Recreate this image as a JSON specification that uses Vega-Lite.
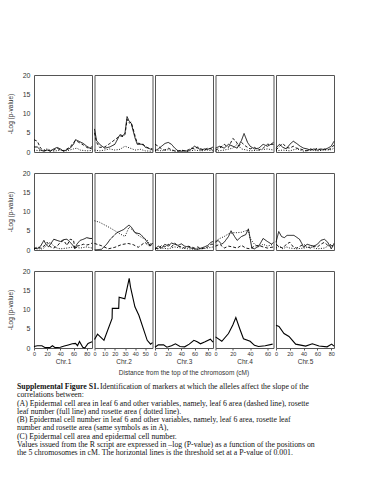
{
"$schema": "https://vega.github.io/schema/vega-lite/v6.json",
"padding": {"top": 70, "left": 6, "right": 5, "bottom": 5},
"background": "white",
"datasets": {
"c1": [
{"r":"A","s":"d","x":0,"y":3.2},{"r":"A","s":"d","x":5,"y":2.8},{"r":"A","s":"d","x":10,"y":1.0},{"r":"A","s":"d","x":15,"y":0.3},{"r":"A","s":"d","x":20,"y":0.5},{"r":"A","s":"d","x":25,"y":0.2},{"r":"A","s":"d","x":30,"y":0.5},{"r":"A","s":"d","x":35,"y":1.0},{"r":"A","s":"d","x":40,"y":0.5},{"r":"A","s":"d","x":45,"y":0.3},{"r":"A","s":"d","x":50,"y":0.8},{"r":"A","s":"d","x":55,"y":1.3},{"r":"A","s":"d","x":60,"y":2.5},{"r":"A","s":"d","x":63,"y":3.0},{"r":"A","s":"d","x":68,"y":2.5},{"r":"A","s":"d","x":75,"y":1.8},{"r":"A","s":"d","x":80,"y":1.2},{"r":"A","s":"d","x":85,"y":0.8},{"r":"A","s":"d","x":88,"y":1.5},
{"r":"A","s":"f","x":0,"y":1.3},{"r":"A","s":"f","x":5,"y":1.3},{"r":"A","s":"f","x":10,"y":0.5},{"r":"A","s":"f","x":15,"y":0.2},{"r":"A","s":"f","x":20,"y":0.5},{"r":"A","s":"f","x":25,"y":0.3},{"r":"A","s":"f","x":30,"y":0.8},{"r":"A","s":"f","x":35,"y":1.2},{"r":"A","s":"f","x":40,"y":0.8},{"r":"A","s":"f","x":45,"y":0.2},{"r":"A","s":"f","x":50,"y":0.6},{"r":"A","s":"f","x":55,"y":1.0},{"r":"A","s":"f","x":60,"y":2.0},{"r":"A","s":"f","x":63,"y":3.2},{"r":"A","s":"f","x":68,"y":2.8},{"r":"A","s":"f","x":75,"y":2.2},{"r":"A","s":"f","x":80,"y":1.5},{"r":"A","s":"f","x":85,"y":1.0},{"r":"A","s":"f","x":88,"y":0.8},
{"r":"A","s":"o","x":0,"y":0.5},{"r":"A","s":"o","x":10,"y":0.3},{"r":"A","s":"o","x":20,"y":0.8},{"r":"A","s":"o","x":30,"y":0.2},{"r":"A","s":"o","x":40,"y":0.5},{"r":"A","s":"o","x":50,"y":0.3},{"r":"A","s":"o","x":60,"y":0.8},{"r":"A","s":"o","x":65,"y":1.0},{"r":"A","s":"o","x":70,"y":0.5},{"r":"A","s":"o","x":80,"y":0.3},{"r":"A","s":"o","x":88,"y":0.4},
{"r":"B","s":"f","x":0,"y":0.5},{"r":"B","s":"f","x":5,"y":0.3},{"r":"B","s":"f","x":10,"y":1.0},{"r":"B","s":"f","x":15,"y":2.5},{"r":"B","s":"f","x":18,"y":1.5},{"r":"B","s":"f","x":22,"y":0.8},{"r":"B","s":"f","x":25,"y":1.5},{"r":"B","s":"f","x":30,"y":2.8},{"r":"B","s":"f","x":35,"y":2.5},{"r":"B","s":"f","x":40,"y":2.2},{"r":"B","s":"f","x":45,"y":2.7},{"r":"B","s":"f","x":50,"y":2.8},{"r":"B","s":"f","x":55,"y":2.0},{"r":"B","s":"f","x":60,"y":1.0},{"r":"B","s":"f","x":62,"y":0.3},{"r":"B","s":"f","x":65,"y":1.5},{"r":"B","s":"f","x":70,"y":2.5},{"r":"B","s":"f","x":75,"y":2.8},{"r":"B","s":"f","x":80,"y":3.2},{"r":"B","s":"f","x":85,"y":3.0},{"r":"B","s":"f","x":88,"y":3.0},
{"r":"B","s":"d","x":0,"y":0.3},{"r":"B","s":"d","x":5,"y":0.8},{"r":"B","s":"d","x":10,"y":0.5},{"r":"B","s":"d","x":15,"y":1.0},{"r":"B","s":"d","x":20,"y":2.0},{"r":"B","s":"d","x":25,"y":0.8},{"r":"B","s":"d","x":30,"y":0.5},{"r":"B","s":"d","x":35,"y":1.0},{"r":"B","s":"d","x":40,"y":2.0},{"r":"B","s":"d","x":45,"y":2.5},{"r":"B","s":"d","x":50,"y":1.2},{"r":"B","s":"d","x":55,"y":2.8},{"r":"B","s":"d","x":60,"y":2.5},{"r":"B","s":"d","x":62,"y":0.5},{"r":"B","s":"d","x":65,"y":1.0},{"r":"B","s":"d","x":70,"y":1.2},{"r":"B","s":"d","x":75,"y":1.5},{"r":"B","s":"d","x":80,"y":1.3},{"r":"B","s":"d","x":85,"y":1.5},{"r":"B","s":"d","x":88,"y":1.8},
{"r":"B","s":"o","x":0,"y":0.2},{"r":"B","s":"o","x":5,"y":0.5},{"r":"B","s":"o","x":10,"y":0.2},{"r":"B","s":"o","x":15,"y":0.5},{"r":"B","s":"o","x":20,"y":1.5},{"r":"B","s":"o","x":25,"y":2.0},{"r":"B","s":"o","x":30,"y":1.0},{"r":"B","s":"o","x":35,"y":0.5},{"r":"B","s":"o","x":40,"y":0.3},{"r":"B","s":"o","x":50,"y":0.5},{"r":"B","s":"o","x":60,"y":0.8},{"r":"B","s":"o","x":70,"y":0.5},{"r":"B","s":"o","x":80,"y":0.8},{"r":"B","s":"o","x":88,"y":0.5},
{"r":"C","s":"f","x":0,"y":0.4},{"r":"C","s":"f","x":5,"y":0.6},{"r":"C","s":"f","x":12,"y":0.6},{"r":"C","s":"f","x":17,"y":0.1},{"r":"C","s":"f","x":24,"y":0.1},{"r":"C","s":"f","x":28,"y":0.6},{"r":"C","s":"f","x":32,"y":0.1},{"r":"C","s":"f","x":40,"y":0.2},{"r":"C","s":"f","x":46,"y":0.5},{"r":"C","s":"f","x":52,"y":0.8},{"r":"C","s":"f","x":58,"y":1.1},{"r":"C","s":"f","x":63,"y":1.2},{"r":"C","s":"f","x":66,"y":0.6},{"r":"C","s":"f","x":69,"y":1.7},{"r":"C","s":"f","x":74,"y":0.2},{"r":"C","s":"f","x":77,"y":0.0},{"r":"C","s":"f","x":82,"y":1.2},{"r":"C","s":"f","x":88,"y":1.6}
],
"c2": [
{"r":"A","s":"f","x":0,"y":6},{"r":"A","s":"f","x":2,"y":3},{"r":"A","s":"f","x":5,"y":2},{"r":"A","s":"f","x":10,"y":1},{"r":"A","s":"f","x":15,"y":1.3},{"r":"A","s":"f","x":20,"y":2},{"r":"A","s":"f","x":25,"y":4.5},{"r":"A","s":"f","x":28,"y":4.2},{"r":"A","s":"f","x":30,"y":5},{"r":"A","s":"f","x":32,"y":9.2},{"r":"A","s":"f","x":34,"y":8},{"r":"A","s":"f","x":36,"y":7.5},{"r":"A","s":"f","x":38,"y":5.5},{"r":"A","s":"f","x":40,"y":3.5},{"r":"A","s":"f","x":42,"y":2},{"r":"A","s":"f","x":45,"y":2},{"r":"A","s":"f","x":48,"y":2},{"r":"A","s":"f","x":50,"y":1.2},{"r":"A","s":"f","x":53,"y":1},{"r":"A","s":"f","x":57,"y":0.5},
{"r":"A","s":"d","x":0,"y":5},{"r":"A","s":"d","x":2,"y":2.5},{"r":"A","s":"d","x":5,"y":1.2},{"r":"A","s":"d","x":10,"y":1.3},{"r":"A","s":"d","x":15,"y":2.2},{"r":"A","s":"d","x":20,"y":3.2},{"r":"A","s":"d","x":25,"y":4.2},{"r":"A","s":"d","x":28,"y":4},{"r":"A","s":"d","x":30,"y":4.5},{"r":"A","s":"d","x":32,"y":8.5},{"r":"A","s":"d","x":34,"y":7.5},{"r":"A","s":"d","x":36,"y":7.8},{"r":"A","s":"d","x":38,"y":6},{"r":"A","s":"d","x":40,"y":4},{"r":"A","s":"d","x":42,"y":2.3},{"r":"A","s":"d","x":45,"y":2.2},{"r":"A","s":"d","x":48,"y":1.8},{"r":"A","s":"d","x":50,"y":1.5},{"r":"A","s":"d","x":53,"y":1},{"r":"A","s":"d","x":57,"y":0.8},
{"r":"A","s":"o","x":0,"y":0.5},{"r":"A","s":"o","x":5,"y":0.3},{"r":"A","s":"o","x":10,"y":0.5},{"r":"A","s":"o","x":15,"y":0.8},{"r":"A","s":"o","x":20,"y":0.5},{"r":"A","s":"o","x":25,"y":0.7},{"r":"A","s":"o","x":30,"y":1.5},{"r":"A","s":"o","x":35,"y":1.0},{"r":"A","s":"o","x":40,"y":0.5},{"r":"A","s":"o","x":45,"y":0.7},{"r":"A","s":"o","x":50,"y":0.3},{"r":"A","s":"o","x":57,"y":0.2},
{"r":"B","s":"o","x":0,"y":7.6},{"r":"B","s":"o","x":5,"y":7.2},{"r":"B","s":"o","x":10,"y":6.5},{"r":"B","s":"o","x":15,"y":5.8},{"r":"B","s":"o","x":20,"y":5.0},{"r":"B","s":"o","x":25,"y":4.2},{"r":"B","s":"o","x":30,"y":3.5},{"r":"B","s":"o","x":34,"y":6.0},{"r":"B","s":"o","x":38,"y":5.0},{"r":"B","s":"o","x":43,"y":3.8},{"r":"B","s":"o","x":48,"y":3.0},{"r":"B","s":"o","x":52,"y":2.5},{"r":"B","s":"o","x":55,"y":1.0},{"r":"B","s":"o","x":57,"y":1.8},
{"r":"B","s":"f","x":0,"y":0},{"r":"B","s":"f","x":7,"y":0.2},{"r":"B","s":"f","x":12,"y":1.5},{"r":"B","s":"f","x":15.5,"y":2.8},{"r":"B","s":"f","x":22,"y":4.5},{"r":"B","s":"f","x":28.5,"y":5.3},{"r":"B","s":"f","x":34,"y":6.5},{"r":"B","s":"f","x":36.6,"y":5.8},{"r":"B","s":"f","x":39.8,"y":4.5},{"r":"B","s":"f","x":44.7,"y":4.2},{"r":"B","s":"f","x":49.6,"y":2.9},{"r":"B","s":"f","x":54.5,"y":1},{"r":"B","s":"f","x":57,"y":1.8},
{"r":"B","s":"d","x":0,"y":1.7},{"r":"B","s":"d","x":7,"y":1.1},{"r":"B","s":"d","x":13.5,"y":0.3},{"r":"B","s":"d","x":20,"y":0.7},{"r":"B","s":"d","x":26.5,"y":1.4},{"r":"B","s":"d","x":33,"y":1.7},{"r":"B","s":"d","x":38,"y":1.4},{"r":"B","s":"d","x":43,"y":0.7},{"r":"B","s":"d","x":49.6,"y":2},{"r":"B","s":"d","x":53,"y":1.1},{"r":"B","s":"d","x":57,"y":2},
{"r":"C","s":"f","x":0,"y":2.2},{"r":"C","s":"f","x":3,"y":3.6},{"r":"C","s":"f","x":9.3,"y":2.0},{"r":"C","s":"f","x":17.3,"y":7.7},{"r":"C","s":"f","x":17.5,"y":10.3},{"r":"C","s":"f","x":23.8,"y":10.3},{"r":"C","s":"f","x":24.2,"y":13.2},{"r":"C","s":"f","x":29.8,"y":12.8},{"r":"C","s":"f","x":34.1,"y":18.1},{"r":"C","s":"f","x":35.4,"y":15.8},{"r":"C","s":"f","x":39.7,"y":10.7},{"r":"C","s":"f","x":43.6,"y":8.5},{"r":"C","s":"f","x":51.8,"y":2.0},{"r":"C","s":"f","x":55.1,"y":1.0},{"r":"C","s":"f","x":57,"y":1.4}
],
"c3": [
{"r":"A","s":"f","x":0,"y":0.3},{"r":"A","s":"f","x":5,"y":0.8},{"r":"A","s":"f","x":10,"y":1.5},{"r":"A","s":"f","x":15,"y":2.2},{"r":"A","s":"f","x":20,"y":2.5},{"r":"A","s":"f","x":25,"y":2.0},{"r":"A","s":"f","x":30,"y":1.0},{"r":"A","s":"f","x":35,"y":0.3},{"r":"A","s":"f","x":40,"y":0.2},{"r":"A","s":"f","x":45,"y":0.3},{"r":"A","s":"f","x":50,"y":0.2},{"r":"A","s":"f","x":55,"y":0.8},{"r":"A","s":"f","x":60,"y":1.5},{"r":"A","s":"f","x":65,"y":1.0},{"r":"A","s":"f","x":70,"y":0.5},{"r":"A","s":"f","x":75,"y":0.8},{"r":"A","s":"f","x":80,"y":0.7},{"r":"A","s":"f","x":85,"y":1.0},{"r":"A","s":"f","x":88,"y":1.3},
{"r":"A","s":"d","x":0,"y":2.0},{"r":"A","s":"d","x":5,"y":1.5},{"r":"A","s":"d","x":10,"y":0.8},{"r":"A","s":"d","x":15,"y":0.5},{"r":"A","s":"d","x":20,"y":1.0},{"r":"A","s":"d","x":25,"y":0.6},{"r":"A","s":"d","x":30,"y":0.3},{"r":"A","s":"d","x":35,"y":0.2},{"r":"A","s":"d","x":40,"y":0.5},{"r":"A","s":"d","x":45,"y":0.3},{"r":"A","s":"d","x":50,"y":0.5},{"r":"A","s":"d","x":55,"y":1.0},{"r":"A","s":"d","x":60,"y":0.8},{"r":"A","s":"d","x":65,"y":1.3},{"r":"A","s":"d","x":70,"y":0.8},{"r":"A","s":"d","x":75,"y":0.5},{"r":"A","s":"d","x":80,"y":1.0},{"r":"A","s":"d","x":85,"y":0.8},{"r":"A","s":"d","x":88,"y":0.6},
{"r":"A","s":"o","x":0,"y":0.5},{"r":"A","s":"o","x":10,"y":0.3},{"r":"A","s":"o","x":20,"y":0.6},{"r":"A","s":"o","x":30,"y":0.2},{"r":"A","s":"o","x":40,"y":0.4},{"r":"A","s":"o","x":50,"y":0.2},{"r":"A","s":"o","x":60,"y":0.5},{"r":"A","s":"o","x":70,"y":0.3},{"r":"A","s":"o","x":80,"y":0.5},{"r":"A","s":"o","x":88,"y":0.3},
{"r":"B","s":"f","x":0,"y":0.3},{"r":"B","s":"f","x":5,"y":1.0},{"r":"B","s":"f","x":10,"y":0.5},{"r":"B","s":"f","x":15,"y":1.5},{"r":"B","s":"f","x":20,"y":1.0},{"r":"B","s":"f","x":25,"y":1.8},{"r":"B","s":"f","x":30,"y":1.5},{"r":"B","s":"f","x":35,"y":1.2},{"r":"B","s":"f","x":40,"y":1.6},{"r":"B","s":"f","x":45,"y":1.0},{"r":"B","s":"f","x":50,"y":0.8},{"r":"B","s":"f","x":55,"y":0.5},{"r":"B","s":"f","x":60,"y":0.3},{"r":"B","s":"f","x":65,"y":0.2},{"r":"B","s":"f","x":70,"y":0.5},{"r":"B","s":"f","x":75,"y":0.8},{"r":"B","s":"f","x":80,"y":1.2},{"r":"B","s":"f","x":85,"y":2.0},{"r":"B","s":"f","x":88,"y":2.2},
{"r":"B","s":"d","x":0,"y":0.5},{"r":"B","s":"d","x":5,"y":0.3},{"r":"B","s":"d","x":10,"y":1.2},{"r":"B","s":"d","x":15,"y":0.8},{"r":"B","s":"d","x":20,"y":1.5},{"r":"B","s":"d","x":25,"y":0.8},{"r":"B","s":"d","x":30,"y":1.8},{"r":"B","s":"d","x":35,"y":1.0},{"r":"B","s":"d","x":40,"y":0.8},{"r":"B","s":"d","x":45,"y":0.5},{"r":"B","s":"d","x":50,"y":1.0},{"r":"B","s":"d","x":55,"y":0.8},{"r":"B","s":"d","x":60,"y":0.5},{"r":"B","s":"d","x":65,"y":0.8},{"r":"B","s":"d","x":70,"y":0.3},{"r":"B","s":"d","x":75,"y":0.5},{"r":"B","s":"d","x":80,"y":0.8},{"r":"B","s":"d","x":85,"y":1.5},{"r":"B","s":"d","x":88,"y":1.5},
{"r":"B","s":"o","x":0,"y":0.2},{"r":"B","s":"o","x":10,"y":0.5},{"r":"B","s":"o","x":20,"y":0.3},{"r":"B","s":"o","x":30,"y":0.8},{"r":"B","s":"o","x":40,"y":0.5},{"r":"B","s":"o","x":50,"y":0.3},{"r":"B","s":"o","x":60,"y":0.2},{"r":"B","s":"o","x":70,"y":0.3},{"r":"B","s":"o","x":80,"y":0.5},{"r":"B","s":"o","x":88,"y":0.8},
{"r":"C","s":"f","x":0,"y":0.2},{"r":"C","s":"f","x":5,"y":0.8},{"r":"C","s":"f","x":13,"y":0.8},{"r":"C","s":"f","x":18,"y":0.2},{"r":"C","s":"f","x":25,"y":0.6},{"r":"C","s":"f","x":31,"y":1.1},{"r":"C","s":"f","x":38,"y":0.4},{"r":"C","s":"f","x":45,"y":0.3},{"r":"C","s":"f","x":52,"y":1.0},{"r":"C","s":"f","x":59,"y":2.0},{"r":"C","s":"f","x":64,"y":1.6},{"r":"C","s":"f","x":69,"y":1.1},{"r":"C","s":"f","x":76,"y":1.6},{"r":"C","s":"f","x":84,"y":2.3},{"r":"C","s":"f","x":88,"y":1.5}
],
"c4": [
{"r":"A","s":"f","x":0,"y":1.0},{"r":"A","s":"f","x":5,"y":1.5},{"r":"A","s":"f","x":10,"y":1.0},{"r":"A","s":"f","x":15,"y":2.0},{"r":"A","s":"f","x":20,"y":1.5},{"r":"A","s":"f","x":25,"y":1.0},{"r":"A","s":"f","x":30,"y":3.0},{"r":"A","s":"f","x":33,"y":4.8},{"r":"A","s":"f","x":37,"y":2.5},{"r":"A","s":"f","x":40,"y":1.5},{"r":"A","s":"f","x":45,"y":0.8},{"r":"A","s":"f","x":50,"y":1.0},{"r":"A","s":"f","x":55,"y":2.0},{"r":"A","s":"f","x":60,"y":1.5},{"r":"A","s":"f","x":64,"y":2.0},{"r":"A","s":"f","x":67,"y":2.5},
{"r":"A","s":"d","x":0,"y":0.5},{"r":"A","s":"d","x":5,"y":1.0},{"r":"A","s":"d","x":10,"y":2.0},{"r":"A","s":"d","x":15,"y":1.2},{"r":"A","s":"d","x":20,"y":3.5},{"r":"A","s":"d","x":23,"y":3.0},{"r":"A","s":"d","x":27,"y":1.5},{"r":"A","s":"d","x":30,"y":2.5},{"r":"A","s":"d","x":35,"y":1.5},{"r":"A","s":"d","x":40,"y":0.8},{"r":"A","s":"d","x":45,"y":1.2},{"r":"A","s":"d","x":50,"y":0.5},{"r":"A","s":"d","x":55,"y":1.0},{"r":"A","s":"d","x":60,"y":2.0},{"r":"A","s":"d","x":67,"y":2.0},
{"r":"A","s":"o","x":0,"y":0.2},{"r":"A","s":"o","x":10,"y":0.5},{"r":"A","s":"o","x":20,"y":1.0},{"r":"A","s":"o","x":25,"y":2.0},{"r":"A","s":"o","x":30,"y":0.8},{"r":"A","s":"o","x":40,"y":0.3},{"r":"A","s":"o","x":50,"y":0.5},{"r":"A","s":"o","x":60,"y":0.8},{"r":"A","s":"o","x":67,"y":0.5},
{"r":"B","s":"o","x":0,"y":2.3},{"r":"B","s":"o","x":5,"y":3.0},{"r":"B","s":"o","x":10,"y":3.5},{"r":"B","s":"o","x":15,"y":4.2},{"r":"B","s":"o","x":20,"y":4.5},{"r":"B","s":"o","x":25,"y":4.5},{"r":"B","s":"o","x":30,"y":4.6},{"r":"B","s":"o","x":35,"y":5.0},{"r":"B","s":"o","x":38,"y":5.2},{"r":"B","s":"o","x":40,"y":3.0},{"r":"B","s":"o","x":45,"y":1.5},{"r":"B","s":"o","x":50,"y":0.8},{"r":"B","s":"o","x":55,"y":1.5},{"r":"B","s":"o","x":60,"y":1.0},{"r":"B","s":"o","x":67,"y":1.5},
{"r":"B","s":"f","x":0,"y":2.0},{"r":"B","s":"f","x":3,"y":2.5},{"r":"B","s":"f","x":7,"y":1.5},{"r":"B","s":"f","x":10,"y":2.0},{"r":"B","s":"f","x":15,"y":3.5},{"r":"B","s":"f","x":18,"y":5.0},{"r":"B","s":"f","x":22,"y":3.5},{"r":"B","s":"f","x":25,"y":2.5},{"r":"B","s":"f","x":30,"y":3.5},{"r":"B","s":"f","x":35,"y":4.0},{"r":"B","s":"f","x":38,"y":5.5},{"r":"B","s":"f","x":40,"y":3.0},{"r":"B","s":"f","x":42,"y":0.5},{"r":"B","s":"f","x":45,"y":0.3},{"r":"B","s":"f","x":50,"y":1.0},{"r":"B","s":"f","x":55,"y":3.0},{"r":"B","s":"f","x":60,"y":2.2},{"r":"B","s":"f","x":65,"y":1.5},{"r":"B","s":"f","x":67,"y":2.0},
{"r":"B","s":"d","x":0,"y":1.0},{"r":"B","s":"d","x":5,"y":1.5},{"r":"B","s":"d","x":10,"y":0.5},{"r":"B","s":"d","x":15,"y":1.0},{"r":"B","s":"d","x":20,"y":0.8},{"r":"B","s":"d","x":25,"y":0.5},{"r":"B","s":"d","x":30,"y":1.2},{"r":"B","s":"d","x":35,"y":0.5},{"r":"B","s":"d","x":40,"y":0.3},{"r":"B","s":"d","x":45,"y":1.0},{"r":"B","s":"d","x":50,"y":1.2},{"r":"B","s":"d","x":55,"y":0.8},{"r":"B","s":"d","x":60,"y":0.5},{"r":"B","s":"d","x":67,"y":0.8},
{"r":"C","s":"f","x":0,"y":2.9},{"r":"C","s":"f","x":7.3,"y":1.75},{"r":"C","s":"f","x":15,"y":3.75},{"r":"C","s":"f","x":20,"y":6.0},{"r":"C","s":"f","x":23.5,"y":7.9},{"r":"C","s":"f","x":28,"y":5.0},{"r":"C","s":"f","x":32.3,"y":2.4},{"r":"C","s":"f","x":40,"y":1.75},{"r":"C","s":"f","x":45,"y":0.7},{"r":"C","s":"f","x":49.7,"y":0.4},{"r":"C","s":"f","x":57.4,"y":0.6},{"r":"C","s":"f","x":66,"y":1.0}
],
"c5": [
{"r":"A","s":"f","x":0,"y":1.0},{"r":"A","s":"f","x":5,"y":2.0},{"r":"A","s":"f","x":10,"y":1.2},{"r":"A","s":"f","x":15,"y":0.8},{"r":"A","s":"f","x":20,"y":2.0},{"r":"A","s":"f","x":25,"y":2.8},{"r":"A","s":"f","x":30,"y":2.2},{"r":"A","s":"f","x":35,"y":1.5},{"r":"A","s":"f","x":40,"y":1.0},{"r":"A","s":"f","x":45,"y":0.8},{"r":"A","s":"f","x":50,"y":0.5},{"r":"A","s":"f","x":55,"y":0.8},{"r":"A","s":"f","x":60,"y":0.5},{"r":"A","s":"f","x":65,"y":0.8},{"r":"A","s":"f","x":70,"y":0.6},{"r":"A","s":"f","x":75,"y":1.0},{"r":"A","s":"f","x":80,"y":1.5},{"r":"A","s":"f","x":84,"y":2.8},
{"r":"A","s":"d","x":0,"y":0.5},{"r":"A","s":"d","x":5,"y":1.5},{"r":"A","s":"d","x":10,"y":2.2},{"r":"A","s":"d","x":15,"y":1.2},{"r":"A","s":"d","x":20,"y":1.0},{"r":"A","s":"d","x":25,"y":1.5},{"r":"A","s":"d","x":30,"y":1.0},{"r":"A","s":"d","x":35,"y":0.8},{"r":"A","s":"d","x":40,"y":0.5},{"r":"A","s":"d","x":45,"y":0.3},{"r":"A","s":"d","x":50,"y":0.8},{"r":"A","s":"d","x":55,"y":0.5},{"r":"A","s":"d","x":60,"y":1.0},{"r":"A","s":"d","x":65,"y":0.5},{"r":"A","s":"d","x":70,"y":0.8},{"r":"A","s":"d","x":75,"y":0.5},{"r":"A","s":"d","x":80,"y":1.0},{"r":"A","s":"d","x":84,"y":1.8},
{"r":"A","s":"o","x":0,"y":0.3},{"r":"A","s":"o","x":10,"y":0.5},{"r":"A","s":"o","x":20,"y":0.3},{"r":"A","s":"o","x":30,"y":0.8},{"r":"A","s":"o","x":40,"y":0.2},{"r":"A","s":"o","x":50,"y":0.5},{"r":"A","s":"o","x":60,"y":0.3},{"r":"A","s":"o","x":70,"y":0.5},{"r":"A","s":"o","x":80,"y":0.6},{"r":"A","s":"o","x":84,"y":1.0},
{"r":"B","s":"f","x":0,"y":2.0},{"r":"B","s":"f","x":4,"y":4.8},{"r":"B","s":"f","x":8,"y":3.5},{"r":"B","s":"f","x":12,"y":3.2},{"r":"B","s":"f","x":16,"y":3.8},{"r":"B","s":"f","x":20,"y":3.8},{"r":"B","s":"f","x":26,"y":3.8},{"r":"B","s":"f","x":30,"y":3.3},{"r":"B","s":"f","x":34,"y":2.8},{"r":"B","s":"f","x":38,"y":1.5},{"r":"B","s":"f","x":40,"y":0.7},{"r":"B","s":"f","x":45,"y":1.5},{"r":"B","s":"f","x":50,"y":1.2},{"r":"B","s":"f","x":55,"y":1.0},{"r":"B","s":"f","x":60,"y":1.5},{"r":"B","s":"f","x":65,"y":2.5},{"r":"B","s":"f","x":70,"y":2.8},{"r":"B","s":"f","x":75,"y":2.0},{"r":"B","s":"f","x":80,"y":0.3},{"r":"B","s":"f","x":84,"y":1.6},
{"r":"B","s":"d","x":0,"y":1.5},{"r":"B","s":"d","x":5,"y":0.8},{"r":"B","s":"d","x":10,"y":0.5},{"r":"B","s":"d","x":15,"y":1.5},{"r":"B","s":"d","x":20,"y":2.0},{"r":"B","s":"d","x":25,"y":0.8},{"r":"B","s":"d","x":30,"y":0.5},{"r":"B","s":"d","x":35,"y":1.0},{"r":"B","s":"d","x":40,"y":1.5},{"r":"B","s":"d","x":45,"y":0.8},{"r":"B","s":"d","x":50,"y":0.5},{"r":"B","s":"d","x":55,"y":1.0},{"r":"B","s":"d","x":60,"y":0.8},{"r":"B","s":"d","x":65,"y":1.5},{"r":"B","s":"d","x":70,"y":2.0},{"r":"B","s":"d","x":75,"y":1.2},{"r":"B","s":"d","x":80,"y":1.0},{"r":"B","s":"d","x":84,"y":1.8},
{"r":"B","s":"o","x":0,"y":0.5},{"r":"B","s":"o","x":5,"y":1.0},{"r":"B","s":"o","x":10,"y":0.3},{"r":"B","s":"o","x":15,"y":0.8},{"r":"B","s":"o","x":20,"y":0.5},{"r":"B","s":"o","x":30,"y":0.3},{"r":"B","s":"o","x":40,"y":0.5},{"r":"B","s":"o","x":50,"y":0.8},{"r":"B","s":"o","x":60,"y":0.3},{"r":"B","s":"o","x":70,"y":0.5},{"r":"B","s":"o","x":80,"y":1.5},{"r":"B","s":"o","x":84,"y":0.8},
{"r":"C","s":"f","x":0,"y":5.9},{"r":"C","s":"f","x":4.3,"y":5.6},{"r":"C","s":"f","x":11.6,"y":3.75},{"r":"C","s":"f","x":18.8,"y":3.0},{"r":"C","s":"f","x":28.5,"y":1.0},{"r":"C","s":"f","x":43,"y":0.5},{"r":"C","s":"f","x":52.6,"y":1.1},{"r":"C","s":"f","x":62.3,"y":0.5},{"r":"C","s":"f","x":74,"y":0.3},{"r":"C","s":"f","x":80.6,"y":1.0},{"r":"C","s":"f","x":84,"y":0.5}
],
"cap": [
{"line":1,"part":"bold","text":"Supplemental Figure S1."},
{"line":1,"part":"rest","text":"Identification of markers at which the alleles affect the slope of the"},
{"line":2,"part":"body","text":"correlations between:"},
{"line":3,"part":"body","text":"(A) Epidermal cell area in leaf 6 and other variables, namely, leaf 6 area (dashed line), rosette"},
{"line":4,"part":"body","text":"leaf number (full line) and rosette area ( dotted line)."},
{"line":5,"part":"body","text":"(B) Epidermal cell number in leaf 6 and other variables, namely, leaf 6 area, rosette leaf"},
{"line":6,"part":"body","text":"number and rosette area (same symbols as in A),"},
{"line":7,"part":"body","text":"(C) Epidermal cell area and epidermal cell number."},
{"line":8,"part":"body","text":"Values issued from the R script are expressed in \u2013log (P-value) as a function of the positions on"},
{"line":9,"part":"body","text":"the 5 chromosomes in cM. The horizontal lines is the threshold set at a P-value of 0.001."}
]
},
"vconcat": [
{
"columns": 5,
"bounds": "flush",
"spacing": {"row": 21, "column": 2.5},
"concat": [
{"data": {"name": "c1"}, "transform": [{"filter": "datum.r == 'A'"}], "width": 58, "height": 77,
"encoding": {"x": {"field": "x", "type": "quantitative", "scale": {"domain": [0, 88], "nice": false}, "axis": null}, "y": {"field": "y", "type": "quantitative", "scale": {"domain": [0, 20], "nice": false}, "axis": {"values": [0,5,10,15,20], "title": "-Log (p-value)"}}},
"layer": [
{"mark": {"type": "line", "color": "black", "strokeWidth": 0.9}, "encoding": {"strokeDash": {"field": "s", "type": "nominal", "scale": {"domain": ["d","f","o"], "range": [[3,2],[1,0],[1,1.5]]}, "legend": null}}},
{"transform": [{"aggregate": [{"op": "count", "as": "n"}]}], "mark": {"type": "rule", "color": "black", "strokeWidth": 0.9, "strokeDash": [1,1]}, "encoding": {"x": null, "y": {"datum": 7.3}}},
{"transform": [{"aggregate": [{"op": "count", "as": "n"}]}], "mark": {"type": "text", "fontSize": 8, "color": "#333"}, "encoding": {"x": {"datum": 11}, "y": {"datum": 16.5}, "text": {"value": "A"}}}
]},
{"data": {"name": "c2"}, "transform": [{"filter": "datum.r == 'A'"}], "width": 58, "height": 77,
"encoding": {"x": {"field": "x", "type": "quantitative", "scale": {"domain": [0, 57], "nice": false}, "axis": null}, "y": {"field": "y", "type": "quantitative", "scale": {"domain": [0, 20], "nice": false}, "axis": null}},
"layer": [
{"mark": {"type": "line", "color": "black", "strokeWidth": 0.9}, "encoding": {"strokeDash": {"field": "s", "type": "nominal", "scale": {"domain": ["d","f","o"], "range": [[3,2],[1,0],[1,1.5]]}, "legend": null}}},
{"transform": [{"aggregate": [{"op": "count", "as": "n"}]}], "mark": {"type": "rule", "color": "black", "strokeWidth": 0.9, "strokeDash": [1,1]}, "encoding": {"x": null, "y": {"datum": 7.3}}}
]},
{"data": {"name": "c3"}, "transform": [{"filter": "datum.r == 'A'"}], "width": 58, "height": 77,
"encoding": {"x": {"field": "x", "type": "quantitative", "scale": {"domain": [0, 88], "nice": false}, "axis": null}, "y": {"field": "y", "type": "quantitative", "scale": {"domain": [0, 20], "nice": false}, "axis": null}},
"layer": [
{"mark": {"type": "line", "color": "black", "strokeWidth": 0.9}, "encoding": {"strokeDash": {"field": "s", "type": "nominal", "scale": {"domain": ["d","f","o"], "range": [[3,2],[1,0],[1,1.5]]}, "legend": null}}},
{"transform": [{"aggregate": [{"op": "count", "as": "n"}]}], "mark": {"type": "rule", "color": "black", "strokeWidth": 0.9}, "encoding": {"x": null, "y": {"datum": 7.3}}}
]},
{"data": {"name": "c4"}, "transform": [{"filter": "datum.r == 'A'"}], "width": 58, "height": 77,
"encoding": {"x": {"field": "x", "type": "quantitative", "scale": {"domain": [0, 67], "nice": false}, "axis": null}, "y": {"field": "y", "type": "quantitative", "scale": {"domain": [0, 20], "nice": false}, "axis": null}},
"layer": [
{"mark": {"type": "line", "color": "black", "strokeWidth": 0.9}, "encoding": {"strokeDash": {"field": "s", "type": "nominal", "scale": {"domain": ["d","f","o"], "range": [[3,2],[1,0],[1,1.5]]}, "legend": null}}},
{"transform": [{"aggregate": [{"op": "count", "as": "n"}]}], "mark": {"type": "rule", "color": "black", "strokeWidth": 0.9}, "encoding": {"x": null, "y": {"datum": 7.3}}}
]},
{"data": {"name": "c5"}, "transform": [{"filter": "datum.r == 'A'"}], "width": 58, "height": 77,
"encoding": {"x": {"field": "x", "type": "quantitative", "scale": {"domain": [0, 84], "nice": false}, "axis": null}, "y": {"field": "y", "type": "quantitative", "scale": {"domain": [0, 20], "nice": false}, "axis": null}},
"layer": [
{"mark": {"type": "line", "color": "black", "strokeWidth": 0.9}, "encoding": {"strokeDash": {"field": "s", "type": "nominal", "scale": {"domain": ["d","f","o"], "range": [[3,2],[1,0],[1,1.5]]}, "legend": null}}},
{"transform": [{"aggregate": [{"op": "count", "as": "n"}]}], "mark": {"type": "rule", "color": "black", "strokeWidth": 0.9}, "encoding": {"x": null, "y": {"datum": 7.3}}}
]},

{"data": {"name": "c1"}, "transform": [{"filter": "datum.r == 'B'"}], "width": 58, "height": 77,
"encoding": {"x": {"field": "x", "type": "quantitative", "scale": {"domain": [0, 88], "nice": false}, "axis": null}, "y": {"field": "y", "type": "quantitative", "scale": {"domain": [0, 20], "nice": false}, "axis": {"values": [0,5,10,15,20], "title": "-Log (p-value)"}}},
"layer": [
{"mark": {"type": "line", "color": "black", "strokeWidth": 0.9}, "encoding": {"strokeDash": {"field": "s", "type": "nominal", "scale": {"domain": ["d","f","o"], "range": [[3,2],[1,0],[1,1.5]]}, "legend": null}}},
{"transform": [{"aggregate": [{"op": "count", "as": "n"}]}], "mark": {"type": "rule", "color": "black", "strokeWidth": 0.9, "strokeDash": [1,1]}, "encoding": {"x": null, "y": {"datum": 7.3}}},
{"transform": [{"aggregate": [{"op": "count", "as": "n"}]}], "mark": {"type": "text", "fontSize": 8, "color": "#333"}, "encoding": {"x": {"datum": 11}, "y": {"datum": 16.5}, "text": {"value": "B"}}}
]},
{"data": {"name": "c2"}, "transform": [{"filter": "datum.r == 'B'"}], "width": 58, "height": 77,
"encoding": {"x": {"field": "x", "type": "quantitative", "scale": {"domain": [0, 57], "nice": false}, "axis": null}, "y": {"field": "y", "type": "quantitative", "scale": {"domain": [0, 20], "nice": false}, "axis": null}},
"layer": [
{"mark": {"type": "line", "color": "black", "strokeWidth": 0.9}, "encoding": {"strokeDash": {"field": "s", "type": "nominal", "scale": {"domain": ["d","f","o"], "range": [[3,2],[1,0],[1,1.5]]}, "legend": null}}},
{"transform": [{"aggregate": [{"op": "count", "as": "n"}]}], "mark": {"type": "rule", "color": "black", "strokeWidth": 0.9, "strokeDash": [1,1]}, "encoding": {"x": null, "y": {"datum": 7.3}}}
]},
{"data": {"name": "c3"}, "transform": [{"filter": "datum.r == 'B'"}], "width": 58, "height": 77,
"encoding": {"x": {"field": "x", "type": "quantitative", "scale": {"domain": [0, 88], "nice": false}, "axis": null}, "y": {"field": "y", "type": "quantitative", "scale": {"domain": [0, 20], "nice": false}, "axis": null}},
"layer": [
{"mark": {"type": "line", "color": "black", "strokeWidth": 0.9}, "encoding": {"strokeDash": {"field": "s", "type": "nominal", "scale": {"domain": ["d","f","o"], "range": [[3,2],[1,0],[1,1.5]]}, "legend": null}}},
{"transform": [{"aggregate": [{"op": "count", "as": "n"}]}], "mark": {"type": "rule", "color": "black", "strokeWidth": 0.9, "strokeDash": [1,1]}, "encoding": {"x": null, "y": {"datum": 7.3}}}
]},
{"data": {"name": "c4"}, "transform": [{"filter": "datum.r == 'B'"}], "width": 58, "height": 77,
"encoding": {"x": {"field": "x", "type": "quantitative", "scale": {"domain": [0, 67], "nice": false}, "axis": null}, "y": {"field": "y", "type": "quantitative", "scale": {"domain": [0, 20], "nice": false}, "axis": null}},
"layer": [
{"mark": {"type": "line", "color": "black", "strokeWidth": 0.9}, "encoding": {"strokeDash": {"field": "s", "type": "nominal", "scale": {"domain": ["d","f","o"], "range": [[3,2],[1,0],[1,1.5]]}, "legend": null}}},
{"transform": [{"aggregate": [{"op": "count", "as": "n"}]}], "mark": {"type": "rule", "color": "black", "strokeWidth": 0.9, "strokeDash": [1,1]}, "encoding": {"x": null, "y": {"datum": 7.3}}}
]},
{"data": {"name": "c5"}, "transform": [{"filter": "datum.r == 'B'"}], "width": 58, "height": 77,
"encoding": {"x": {"field": "x", "type": "quantitative", "scale": {"domain": [0, 84], "nice": false}, "axis": null}, "y": {"field": "y", "type": "quantitative", "scale": {"domain": [0, 20], "nice": false}, "axis": null}},
"layer": [
{"mark": {"type": "line", "color": "black", "strokeWidth": 0.9}, "encoding": {"strokeDash": {"field": "s", "type": "nominal", "scale": {"domain": ["d","f","o"], "range": [[3,2],[1,0],[1,1.5]]}, "legend": null}}},
{"transform": [{"aggregate": [{"op": "count", "as": "n"}]}], "mark": {"type": "rule", "color": "black", "strokeWidth": 0.9, "strokeDash": [1,1]}, "encoding": {"x": null, "y": {"datum": 7.3}}}
]},

{"data": {"name": "c1"}, "transform": [{"filter": "datum.r == 'C'"}], "width": 58, "height": 77,
"encoding": {"x": {"field": "x", "type": "quantitative", "scale": {"domain": [0, 88], "nice": false}, "axis": {"values": [0,20,40,60,80], "title": "Chr.1"}}, "y": {"field": "y", "type": "quantitative", "scale": {"domain": [0, 20], "nice": false}, "axis": {"values": [0,5,10,15,20], "title": "-Log (p-value)"}}},
"layer": [
{"mark": {"type": "line", "color": "black", "strokeWidth": 1.1}},
{"transform": [{"aggregate": [{"op": "count", "as": "n"}]}], "mark": {"type": "rule", "color": "black", "strokeWidth": 1}, "encoding": {"x": null, "y": {"datum": 7.3}}},
{"transform": [{"aggregate": [{"op": "count", "as": "n"}]}], "mark": {"type": "text", "fontSize": 8, "color": "#333"}, "encoding": {"x": {"datum": 11}, "y": {"datum": 16.5}, "text": {"value": "C"}}}
]},
{"data": {"name": "c2"}, "transform": [{"filter": "datum.r == 'C'"}], "width": 58, "height": 77,
"encoding": {"x": {"field": "x", "type": "quantitative", "scale": {"domain": [0, 57], "nice": false}, "axis": {"values": [0,10,20,30,40,50], "title": "Chr.2"}}, "y": {"field": "y", "type": "quantitative", "scale": {"domain": [0, 20], "nice": false}, "axis": null}},
"layer": [
{"mark": {"type": "line", "color": "black", "strokeWidth": 1.1}},
{"transform": [{"aggregate": [{"op": "count", "as": "n"}]}], "mark": {"type": "rule", "color": "black", "strokeWidth": 1}, "encoding": {"x": null, "y": {"datum": 7.3}}}
]},
{"data": {"name": "c3"}, "transform": [{"filter": "datum.r == 'C'"}], "width": 58, "height": 77,
"encoding": {"x": {"field": "x", "type": "quantitative", "scale": {"domain": [0, 88], "nice": false}, "axis": {"values": [0,20,40,60,80], "title": "Chr.3"}}, "y": {"field": "y", "type": "quantitative", "scale": {"domain": [0, 20], "nice": false}, "axis": null}},
"layer": [
{"mark": {"type": "line", "color": "black", "strokeWidth": 1.1}},
{"transform": [{"aggregate": [{"op": "count", "as": "n"}]}], "mark": {"type": "rule", "color": "black", "strokeWidth": 1}, "encoding": {"x": null, "y": {"datum": 7.3}}}
]},
{"data": {"name": "c4"}, "transform": [{"filter": "datum.r == 'C'"}], "width": 58, "height": 77,
"encoding": {"x": {"field": "x", "type": "quantitative", "scale": {"domain": [0, 67], "nice": false}, "axis": {"values": [0,20,40,60], "title": "Chr.4"}}, "y": {"field": "y", "type": "quantitative", "scale": {"domain": [0, 20], "nice": false}, "axis": null}},
"layer": [
{"mark": {"type": "line", "color": "black", "strokeWidth": 1.1}},
{"transform": [{"aggregate": [{"op": "count", "as": "n"}]}], "mark": {"type": "rule", "color": "black", "strokeWidth": 1}, "encoding": {"x": null, "y": {"datum": 7.3}}}
]},
{"data": {"name": "c5"}, "transform": [{"filter": "datum.r == 'C'"}], "width": 58, "height": 77,
"encoding": {"x": {"field": "x", "type": "quantitative", "scale": {"domain": [0, 84], "nice": false}, "axis": {"values": [0,20,40,60,80], "title": "Chr.5"}}, "y": {"field": "y", "type": "quantitative", "scale": {"domain": [0, 20], "nice": false}, "axis": null}},
"layer": [
{"mark": {"type": "line", "color": "black", "strokeWidth": 1.1}},
{"transform": [{"aggregate": [{"op": "count", "as": "n"}]}], "mark": {"type": "rule", "color": "black", "strokeWidth": 1}, "encoding": {"x": null, "y": {"datum": 7.3}}}
]}
]
},
{
"width": 300, "height": 66,
"view": {"stroke": null},
"title": {"text": "Distance from the top of the chromosom (cM)", "fontSize": 6.5, "fontWeight": "normal", "color": "#333", "anchor": "middle", "offset": 7, "font": "Liberation Sans"},
"data": {"name": "cap"},
"encoding": {
"y": {"field": "line", "type": "quantitative", "scale": {"domain": [1, 9], "reverse": true}, "axis": null},
"text": {"field": "text"}
},
"layer": [
{"transform": [{"filter": "datum.part == 'body'"}], "mark": {"type": "text", "align": "left", "baseline": "middle", "font": "Liberation Serif", "fontSize": 7.8, "color": "#111", "x": -17}},
{"transform": [{"filter": "datum.part == 'bold'"}], "mark": {"type": "text", "align": "left", "baseline": "middle", "font": "Liberation Serif", "fontSize": 7.8, "fontWeight": "bold", "color": "#111", "x": -17}},
{"transform": [{"filter": "datum.part == 'rest'"}], "mark": {"type": "text", "align": "left", "baseline": "middle", "font": "Liberation Serif", "fontSize": 7.8, "color": "#111", "x": -17, "dx": 83}}
]
}
],
"spacing": 3,
"config": {
"view": {"stroke": "#555", "strokeWidth": 1},
"font": "Liberation Sans",
"axis": {"labelColor": "#333", "titleColor": "#333", "labelFont": "Liberation Sans", "titleFont": "Liberation Sans", "tickColor": "#555"},
"axisX": {"grid": false, "domain": false, "tickSize": 2, "labelFontSize": 5.5, "labelPadding": 1, "labelFlush": false, "labelOverlap": false, "titleFontSize": 6.5, "titleFontWeight": "normal", "titlePadding": 2},
"axisY": {"grid": false, "domain": false, "ticks": false, "labelFontSize": 7, "labelPadding": 4, "labelOverlap": false, "titleFontSize": 6.5, "titleFontWeight": "normal", "titlePadding": 9}
}
}
